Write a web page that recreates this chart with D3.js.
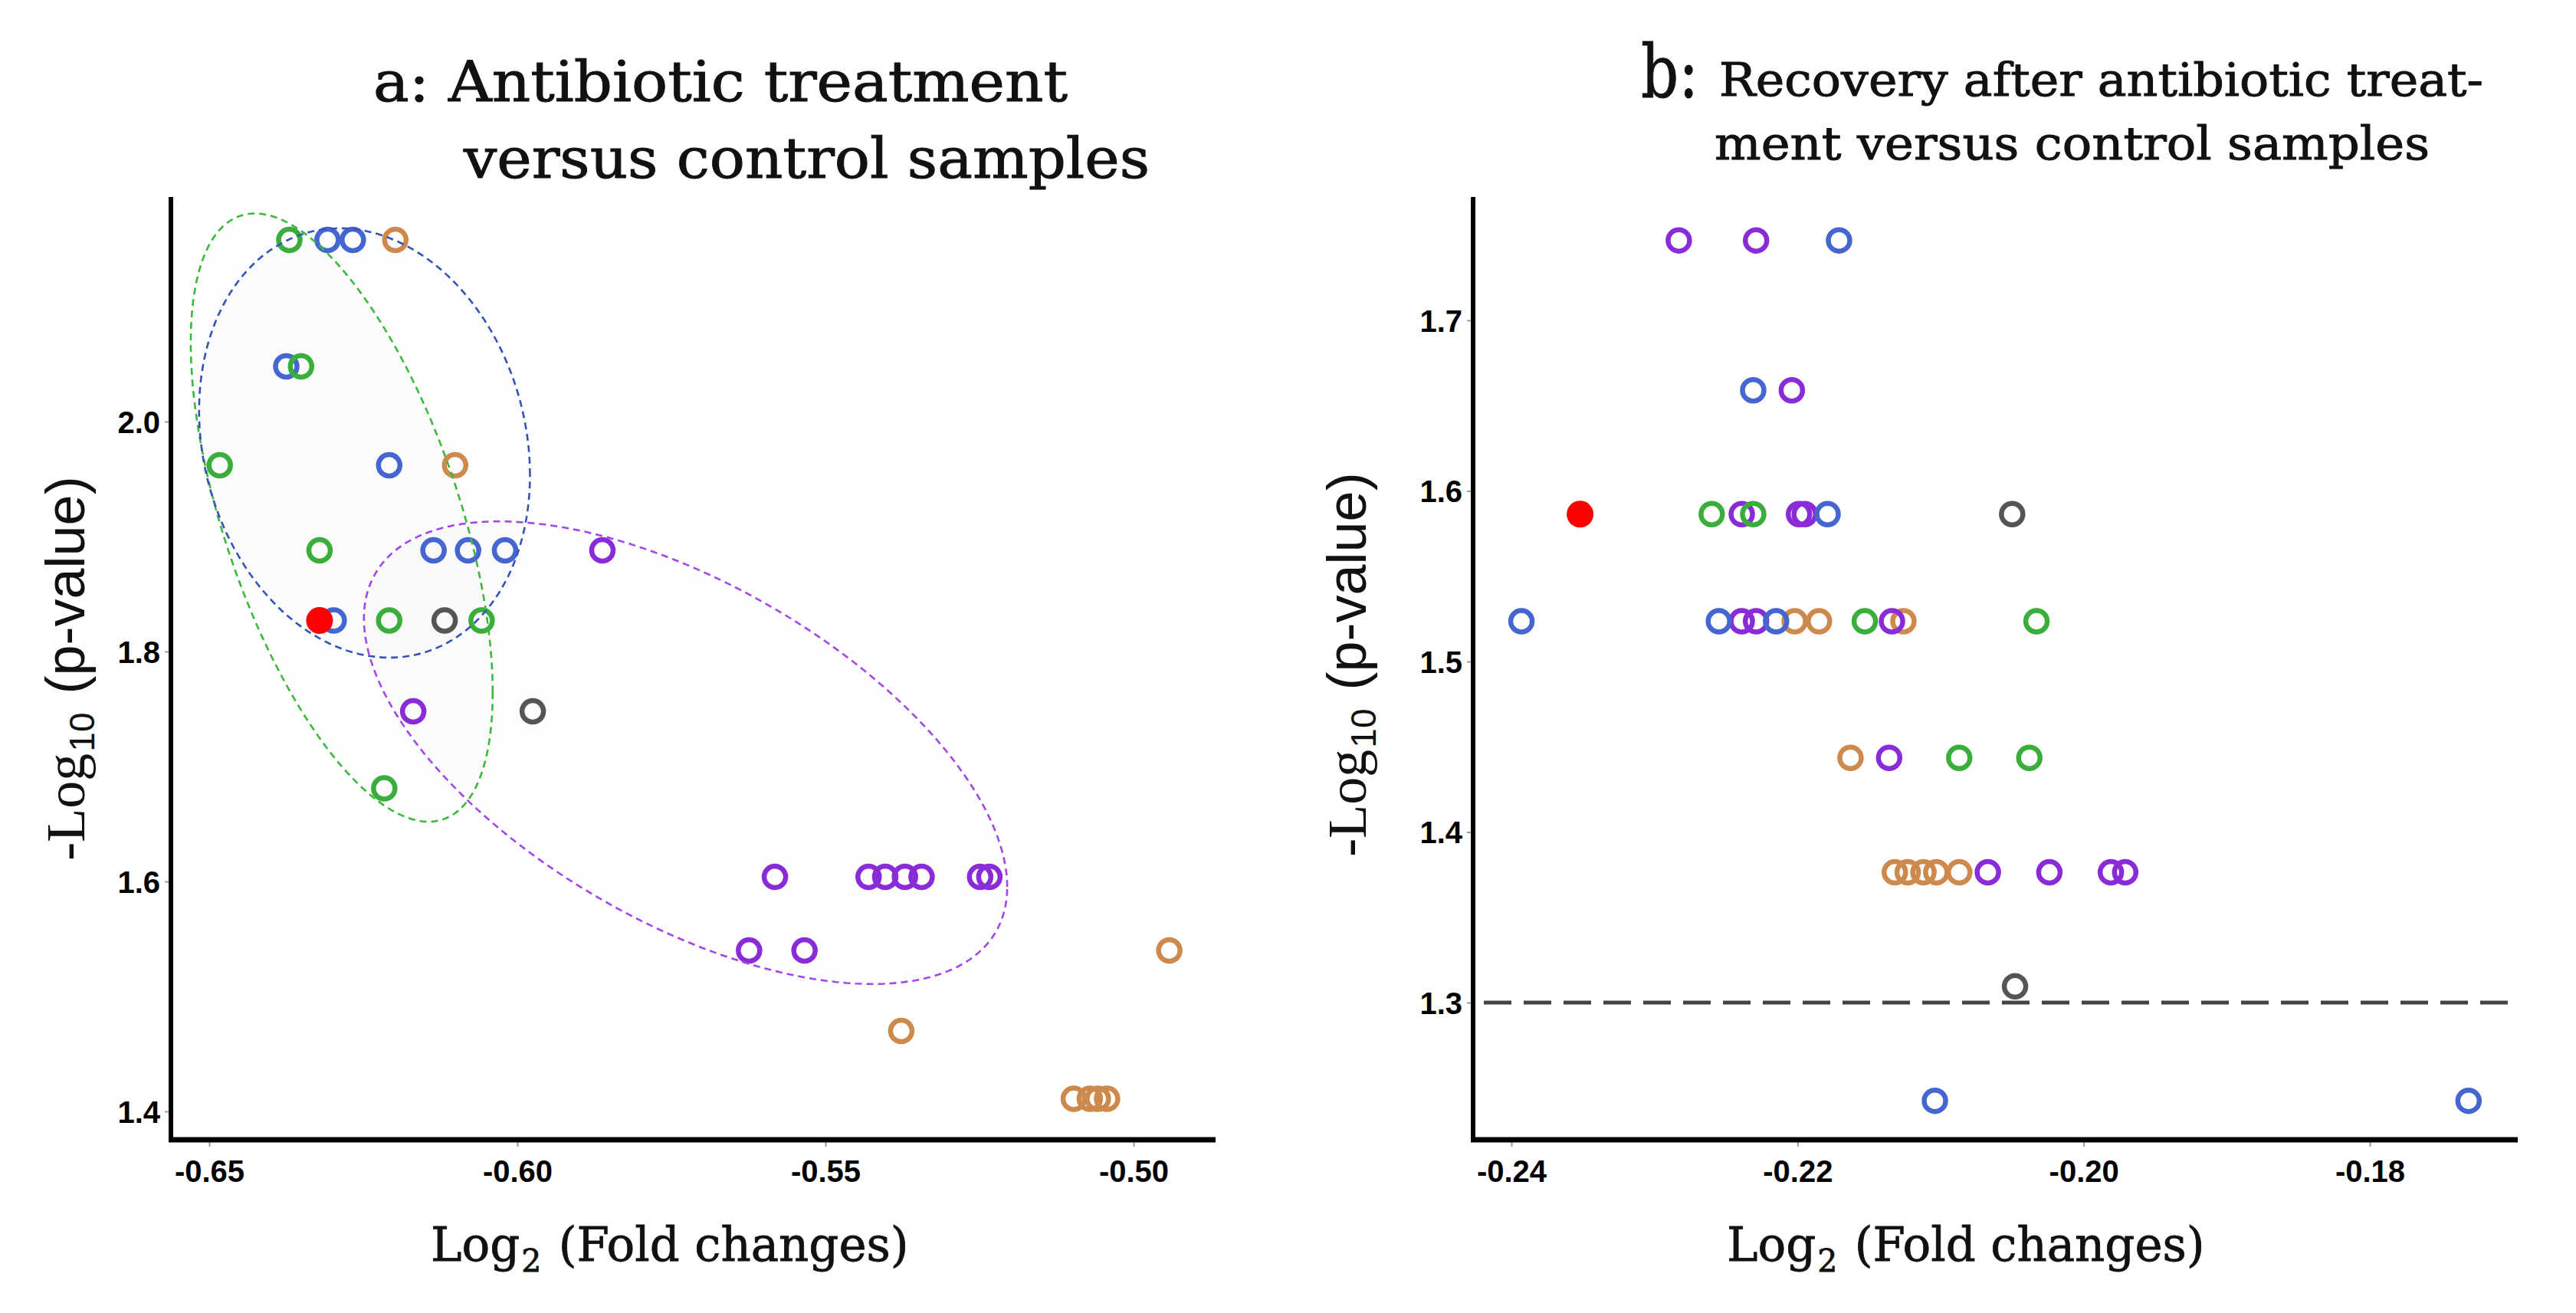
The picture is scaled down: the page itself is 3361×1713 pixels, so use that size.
<!DOCTYPE html>
<html>
<head>
<meta charset="utf-8">
<script src="https://cdn.jsdelivr.net/npm/d3@7"></script>
<style>
  html, body { margin: 0; padding: 0; background: #ffffff; }
  svg { display: block; }
</style>
</head>
<body>
<script>
// ---------------- DATA ----------------
// Panel a: Antibiotic treatment versus control samples  [log2 FC, -log10 p]
const aGreen  = [[-0.6370,2.158],[-0.6351,2.048],[-0.6483,1.962],[-0.6321,1.888],[-0.6208,1.827],[-0.6058,1.827],[-0.6216,1.681]];
const aBlue   = [[-0.6308,2.158],[-0.6267,2.158],[-0.6375,2.048],[-0.6208,1.962],[-0.6136,1.888],[-0.6080,1.888],[-0.6020,1.888],[-0.6298,1.827]];
const aOrange = [[-0.6198,2.158],[-0.6101,1.962],[-0.4942,1.540],[-0.5377,1.470],[-0.5097,1.411],[-0.5071,1.411],[-0.5058,1.411],[-0.5043,1.411]];
const aPurple = [[-0.5862,1.888],[-0.6169,1.748],[-0.5582,1.604],[-0.5430,1.604],[-0.5403,1.604],[-0.5371,1.604],[-0.5344,1.604],[-0.5249,1.604],[-0.5234,1.604],[-0.5624,1.540],[-0.5534,1.540]];
const aGray   = [[-0.6118,1.827],[-0.5975,1.748]];
const aRed    = [[-0.6321,1.827]];

// Panel a ellipses (centre, half-extent in x and y, correlation)
const ellGroup = ["green","blue","purple"];
const ellCX  = [-0.6285,-0.6248,-0.5727];
const ellCY  = [ 1.9165, 1.9814, 1.7120];
const ellSX  = [ 0.0245, 0.02685, 0.0522];
const ellSY  = [ 0.2645, 0.1867, 0.2012];
const ellRho = [-0.575, -0.15, -0.58];

// Panel b: Recovery after antibiotic treatment versus control samples
const bGreen  = [[-0.2260,1.5864],[-0.2231,1.5864],[-0.2153,1.5236],[-0.2033,1.5236],[-0.2087,1.4435],[-0.2038,1.4435]];
const bBlue   = [[-0.2171,1.7469],[-0.2231,1.6590],[-0.2179,1.5864],[-0.2393,1.5236],[-0.2255,1.5236],[-0.2215,1.5236],[-0.2104,1.2424],[-0.1731,1.2424]];
const bOrange = [[-0.2202,1.5236],[-0.2185,1.5236],[-0.2126,1.5236],[-0.2163,1.4435],[-0.2132,1.3764],[-0.2123,1.3764],[-0.2112,1.3764],[-0.2103,1.3764],[-0.2087,1.3764]];
const bPurple = [[-0.2283,1.7469],[-0.2229,1.7469],[-0.2204,1.6590],[-0.2239,1.5864],[-0.2199,1.5864],[-0.2195,1.5864],[-0.2239,1.5236],[-0.2229,1.5236],[-0.2134,1.5236],[-0.2136,1.4435],[-0.2067,1.3764],[-0.2024,1.3764],[-0.1981,1.3764],[-0.1971,1.3764]];
const bGray   = [[-0.2050,1.5864],[-0.2048,1.3095]];
const bRed    = [[-0.2352,1.5864]];
const bThreshold = 1.3;

// Tick labels
const aXTicks = [-0.65,-0.60,-0.55,-0.50];
const aYTicks = [1.4,1.6,1.8,2.0];
const bXTicks = [-0.24,-0.22,-0.20,-0.18];
const bYTicks = [1.3,1.4,1.5,1.6,1.7];

// ---------------- STYLE ----------------
const COL = {green:"#3aae3a", blue:"#4565d0", orange:"#cd8a4c", purple:"#8a2bd8", gray:"#555555", red:"#ff0000"};
const ELLCOL = {green:"#3cb83c", blue:"#3553b5", purple:"#a348e6"};
const W = 3361, H = 1713;
const serif = "'DejaVu Serif', 'Liberation Serif', serif";

const svg = d3.select("body").append("svg").attr("width", W).attr("height", H);
svg.append("rect").attr("width", W).attr("height", H).attr("fill", "#ffffff");

function panel(cfg) {
  const g = svg.append("g");
  const x = d3.scaleLinear().domain(cfg.xDom).range(cfg.xRange);
  const y = d3.scaleLinear().domain(cfg.yDom).range(cfg.yRange);

  // ellipse fills
  const ellLine = d3.line().x(d => x(d[0])).y(d => y(d[1])).curve(d3.curveLinearClosed);
  const ellPts = [];
  (cfg.ell || []).forEach(e => {
    const pts = d3.range(0, 360, 2).map(a => {
      const t = a * Math.PI / 180;
      return [e.cx + e.sx * Math.cos(t), e.cy + e.sy * (e.rho * Math.cos(t) + Math.sqrt(1 - e.rho * e.rho) * Math.sin(t))];
    });
    ellPts.push({pts, col: ELLCOL[e.group]});
    g.append("path").attr("d", ellLine(pts)).attr("fill", "#000").attr("fill-opacity", 0.008).attr("stroke", "none");
  });

  // threshold line
  if (cfg.threshold !== undefined) {
    g.append("line")
      .attr("x1", cfg.axisX + 14).attr("x2", cfg.axisXEnd - 8)
      .attr("y1", y(cfg.threshold)).attr("y2", y(cfg.threshold))
      .attr("stroke", "#444").attr("stroke-width", 5).attr("stroke-dasharray", "36,16");
  }

  // points
  cfg.series.forEach(s => {
    g.append("g").selectAll("circle").data(s.data).join("circle")
      .attr("cx", d => x(d[0])).attr("cy", d => y(d[1]))
      .attr("r", s.filled ? 17.5 : 14)
      .attr("fill", s.filled ? COL[s.col] : "none")
      .attr("stroke", s.filled ? "none" : COL[s.col])
      .attr("stroke-width", 6.5);
  });

  // ellipse strokes
  ellPts.forEach(e => {
    g.append("path").attr("d", ellLine(e.pts)).attr("fill", "none")
      .attr("stroke", e.col).attr("stroke-width", 2.6).attr("stroke-dasharray", "9,6");
  });

  // axes
  const xAxis = d3.axisBottom(x).tickValues(cfg.xTicks).tickFormat(d => d.toFixed(2)).tickSize(9).tickPadding(12);
  const yAxis = d3.axisLeft(y).tickValues(cfg.yTicks).tickFormat(d => d.toFixed(1)).tickSize(8).tickPadding(6);
  const gx = g.append("g").attr("transform", `translate(0,${cfg.axisY})`).call(xAxis);
  const gy = g.append("g").attr("transform", `translate(${cfg.axisX},0)`).call(yAxis);
  [gx, gy].forEach(ax => {
    ax.select(".domain").remove();
    ax.selectAll(".tick line").attr("stroke", "#9a9a9a").attr("stroke-width", 2);
    ax.selectAll(".tick text").attr("fill", "#000").attr("font-family", "'Liberation Sans', Arial, sans-serif")
      .attr("font-weight", "bold").attr("font-size", 40);
  });
  gx.selectAll(".tick text").attr("dy", "0.85em");
  gy.selectAll(".tick text").attr("dy", "0.35em");

  g.append("line").attr("x1", cfg.axisX).attr("x2", cfg.axisX).attr("y1", cfg.axisTop).attr("y2", cfg.axisY + 3)
    .attr("stroke", "#000").attr("stroke-width", 6);
  g.append("line").attr("x1", cfg.axisX - 3).attr("x2", cfg.axisXEnd).attr("y1", cfg.axisY).attr("y2", cfg.axisY)
    .attr("stroke", "#000").attr("stroke-width", 7);

  // x-axis title
  const xt = g.append("text").attr("x", cfg.xTitleX).attr("y", 1645)
    .attr("font-family", serif).attr("font-size", 61).attr("fill", "#111")
    .attr("stroke", "#111").attr("stroke-width", 0.8);
  xt.append("tspan").text("Log");
  xt.append("tspan").attr("font-size", 41).attr("dy", 14).attr("dx", 2).text("2");
  xt.append("tspan").attr("dy", -14).attr("dx", 3).text(" (Fold changes)");

  // y-axis title
  const yt = g.append("text")
    .attr("transform", `translate(${cfg.yTitleX},${cfg.yTitleY}) rotate(-90)`)
    .attr("text-anchor", "middle").attr("fill", "#111").attr("font-size", 72)
    .attr("font-family", "'Liberation Sans', Arial, sans-serif");
  yt.append("tspan").attr("font-family", "'Liberation Serif', serif").text("-Log");
  yt.append("tspan").attr("font-size", 46).attr("dy", 13).attr("dx", 2).text("10");
  yt.append("tspan").attr("dy", -13).attr("dx", 4).text(" (p-value)");

  return g;
}

panel({
  xDom: [-0.65, -0.50], xRange: [273, 1479],
  yDom: [1.4, 2.0], yRange: [1450, 550],
  axisX: 223, axisXEnd: 1586, axisY: 1487, axisTop: 257,
  xTicks: aXTicks, yTicks: aYTicks,
  ell: ellGroup.map((gname, i) => ({group: gname, cx: ellCX[i], cy: ellCY[i], sx: ellSX[i], sy: ellSY[i], rho: ellRho[i]})),
  series: [
    {data: aOrange, col: "orange"}, {data: aPurple, col: "purple"}, {data: aBlue, col: "blue"},
    {data: aGreen, col: "green"}, {data: aGray, col: "gray"}, {data: aRed, col: "red", filled: true}
  ],
  xTitleX: 562, yTitleX: 110, yTitleY: 872
});

panel({
  xDom: [-0.24, -0.18], xRange: [1972, 3092],
  yDom: [1.3, 1.7], yRange: [1308, 418],
  axisX: 1922, axisXEnd: 3285, axisY: 1487, axisTop: 257,
  xTicks: bXTicks, yTicks: bYTicks, threshold: bThreshold,
  series: [
    {data: bOrange, col: "orange"}, {data: bPurple, col: "purple"}, {data: bBlue, col: "blue"},
    {data: bGreen, col: "green"}, {data: bGray, col: "gray"}, {data: bRed, col: "red", filled: true}
  ],
  xTitleX: 2253, yTitleX: 1782, yTitleY: 867
});

// titles
function title(x, y, size, len, txt) {
  svg.append("text").attr("x", x).attr("y", y).attr("font-family", serif).attr("font-size", size)
    .attr("fill", "#111").attr("stroke", "#111").attr("stroke-width", 1.0)
    .attr("textLength", len).attr("lengthAdjust", "spacingAndGlyphs").text(txt);
}
title(487, 132, 72, 906, "a: Antibiotic treatment");
title(605, 232, 72, 895, "versus control samples");
title(2141, 127, 96, 75, "b:");
title(2243, 125, 60, 997, "Recovery after antibiotic treat-");
title(2237, 208, 60, 933, "ment versus control samples");
</script>
</body>
</html>
